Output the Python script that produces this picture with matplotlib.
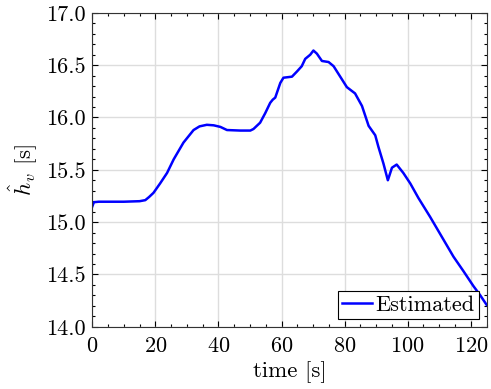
import matplotlib
matplotlib.use("Agg")
import matplotlib.pyplot as plt
from matplotlib.ticker import MultipleLocator

time = [0.0, 0.5, 2, 5, 10, 15, 16.8, 18.0, 19.4, 21.5, 23.7, 25.8, 28.9, 32.1, 34.0, 36.3, 38.5,
        40.6, 42.7, 46.9, 50.1, 51.1, 53.2, 54.8, 56.4, 57.2, 58.0, 59.6, 60.6, 63.3, 64.9,
        66.4, 67.5, 69.1, 70.1, 71.2, 72.8, 74.9, 76.5, 78.6, 80.7, 83.3, 85.5, 87.6,
        89.7, 90.7, 92.3, 93.7, 95.0, 96.5, 98.6, 100.8, 103.4, 107.1, 110.8, 114.5,
        117.7, 120.8, 123.0, 125.0]
h_est = [15.15, 15.19, 15.195, 15.195, 15.195, 15.20, 15.21, 15.24, 15.28, 15.37, 15.47, 15.60,
         15.76, 15.88, 15.915, 15.93, 15.925, 15.91, 15.88, 15.875, 15.875, 15.89, 15.95, 16.04,
         16.14, 16.17, 16.19, 16.33, 16.38, 16.39, 16.44, 16.49, 16.56, 16.60, 16.64,
         16.61, 16.54, 16.53, 16.49, 16.39, 16.29, 16.23, 16.11, 15.92, 15.83,
         15.72, 15.56, 15.40, 15.52, 15.55, 15.47, 15.37, 15.23, 15.05, 14.86,
         14.67, 14.53, 14.39, 14.30, 14.21]

plt.rcParams.update({
    "font.family": "serif",
    "font.serif": ["cmr10"],
    "mathtext.fontset": "cm",
    "axes.formatter.use_mathtext": True,
    "axes.unicode_minus": False,
    "font.size": 16,
})

fig, ax = plt.subplots(figsize=(4.91, 3.89), dpi=100)
fig.subplots_adjust(left=0.188, right=0.991, top=0.967, bottom=0.16)

ax.plot(time, h_est, color="#0000ff", lw=1.8, label="Estimated")
ax.set_xlim(0, 125)
ax.set_ylim(14.0, 17.0)
ax.xaxis.set_major_locator(MultipleLocator(20))
ax.xaxis.set_minor_locator(MultipleLocator(5))
ax.yaxis.set_major_locator(MultipleLocator(0.5))
ax.yaxis.set_minor_locator(MultipleLocator(0.1))
ax.yaxis.set_major_formatter(matplotlib.ticker.FormatStrFormatter("%.1f"))
ax.tick_params(which="both", direction="in", top=True, right=True, labelsize=16)
ax.tick_params(axis="x", which="major", pad=7)
ax.tick_params(axis="y", which="major", pad=5)
ax.tick_params(which="major", length=4, width=0.8)
ax.tick_params(which="minor", length=2, width=0.8)
ax.grid(True, which="major", color="#dddddd", lw=1)
ax.set_axisbelow(True)
for s in ax.spines.values():
    s.set_color("#333333")
ax.set_xlabel("time [s]", fontsize=16.5, labelpad=4)
ax.set_ylabel(r"$\hat{h}_v$ [s]", fontsize=16.5, labelpad=4)
leg = ax.legend(loc="lower right", fancybox=False, edgecolor="black", framealpha=1,
                fontsize=16, borderaxespad=0.35, handlelength=1.35, handletextpad=0.12,
                borderpad=0.2)
leg.get_frame().set_linewidth(0.8)
fig.savefig("out.png", dpi=100)
